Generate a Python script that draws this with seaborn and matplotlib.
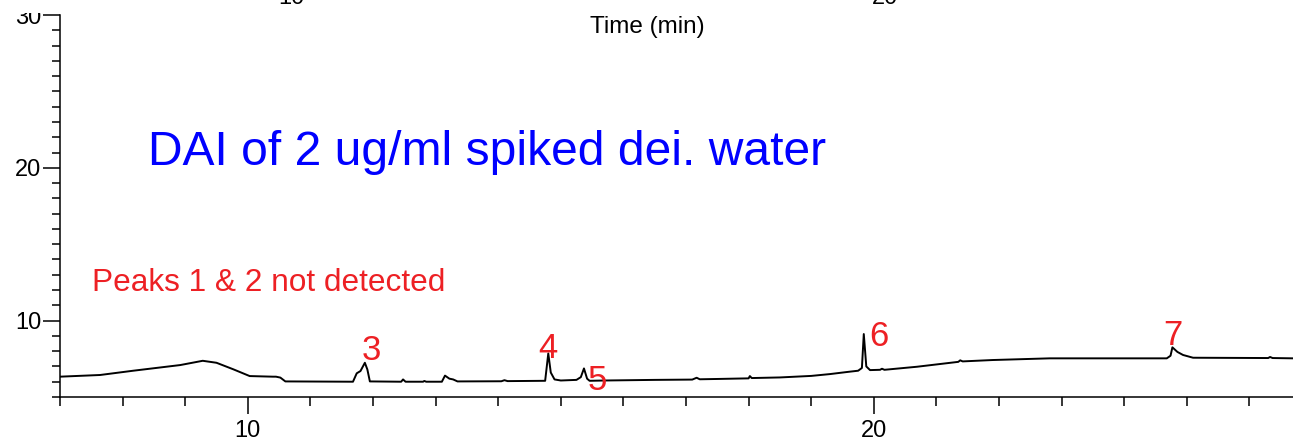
import numpy as np
import pandas as pd
import matplotlib
matplotlib.use("Agg")
import matplotlib.pyplot as plt
import seaborn as sns
from matplotlib.ticker import MultipleLocator
from matplotlib.patches import Rectangle

# ---- data ----
time_min = [7.00, 7.64, 8.17, 8.92, 9.28, 9.50, 9.77, 10.03, 10.40, 10.45, 10.52, 10.60,
            11.68, 11.74, 11.80, 11.87, 11.91, 11.95, 12.45, 12.48, 12.52, 12.80, 12.82, 12.85,
            13.10, 13.15, 13.22, 13.28, 13.35, 14.05, 14.10, 14.15, 14.75, 14.80, 14.84, 14.90,
            15.00, 15.25, 15.32, 15.37, 15.42, 15.46, 15.70, 16.50, 17.10, 17.17, 17.22, 17.50,
            18.00, 18.02, 18.05, 18.50, 19.00, 19.30, 19.60, 19.75, 19.81, 19.84, 19.88, 19.94,
            20.10, 20.13, 20.17, 20.69, 21.35, 21.38, 21.42, 21.90, 22.81, 23.88, 24.68, 24.74,
            24.77, 24.85, 24.94, 25.10, 26.30, 26.33, 26.37, 26.70]
signal = [6.33, 6.44, 6.72, 7.09, 7.37, 7.24, 6.81, 6.37, 6.33, 6.33, 6.27, 6.02,
          6.00, 6.55, 6.70, 7.24, 6.80, 6.02, 6.00, 6.15, 6.00, 6.00, 6.05, 6.00,
          6.00, 6.40, 6.20, 6.15, 6.02, 6.03, 6.10, 6.04, 6.06, 7.85, 6.60, 6.15,
          6.08, 6.12, 6.30, 6.87, 6.20, 6.06, 6.08, 6.12, 6.14, 6.26, 6.16, 6.18,
          6.22, 6.37, 6.24, 6.28, 6.38, 6.50, 6.65, 6.72, 6.90, 9.12, 7.00, 6.76,
          6.78, 6.85, 6.78, 6.98, 7.30, 7.40, 7.33, 7.42, 7.53, 7.53, 7.53, 7.70,
          8.25, 7.95, 7.75, 7.57, 7.55, 7.62, 7.55, 7.53]

peak_labels = ["3", "4", "5", "6", "7"]
peak_label_x = [11.98, 14.80, 15.58, 20.08, 24.78]
peak_label_y = [8.07, 8.20, 6.11, 8.99, 9.05]

title_text = "DAI of 2 ug/ml spiked dei. water"
note_text = "Peaks 1 & 2 not detected"
top_axis_label = "Time (min)"
top_tick_labels = ["10", "20"]
top_tick_x = [10.70, 20.18]

x_major = [10, 20]
y_major = [10, 20, 30]

df = pd.DataFrame({"time": time_min, "signal": signal})

sns.set_style("ticks")
plt.rcParams['font.family'] = ['Liberation Sans', 'DejaVu Sans']

RED = "#ED2024"
BLUE = "#0000FF"

fig = plt.figure(figsize=(12.93, 4.4), dpi=100)
ax = fig.add_axes([60 / 1293, 43 / 440, 1233 / 1293, 382 / 440])

sns.lineplot(data=df, x="time", y="signal", ax=ax, color="black", linewidth=1.4,
             estimator=None, sort=False)

ax.set_xlim(7, 7 + 1233 / 62.6)
ax.set_ylim(5, 30)
ax.set_xlabel("")
ax.set_ylabel("")
sns.despine(ax=ax, top=True, right=True)
for s in ["left", "bottom"]:
    ax.spines[s].set_linewidth(1.1)
    ax.spines[s].set_color("black")

ax.set_xticks(x_major)
ax.set_yticks(y_major)
ax.xaxis.set_minor_locator(MultipleLocator(1))
ax.yaxis.set_minor_locator(MultipleLocator(1))
ax.tick_params(axis="both", which="major", direction="out", width=1.1, color="black",
               labelsize=17, labelcolor="black")
ax.tick_params(axis="both", which="minor", direction="out", width=1.1, color="black")
ax.tick_params(axis="x", which="major", length=12.2, pad=4)
ax.tick_params(axis="x", which="minor", length=6.8)
ax.tick_params(axis="y", which="major", length=12.5, pad=1)
ax.tick_params(axis="y", which="minor", length=5.8)

for lab, x, y in zip(peak_labels, peak_label_x, peak_label_y):
    ax.text(x, y, lab, color=RED, fontsize=25, ha="center", va="center")

ax.text(8.41, 21.0, title_text, color=BLUE, fontsize=34.6, ha="left", va="center")
ax.text(7.51, 12.45, note_text, color=RED, fontsize=22.8, ha="left", va="center")

ax.text(16.385, 28.79, top_axis_label, color="black", fontsize=17.5, ha="center",
        va="baseline")
for lab, x in zip(top_tick_labels, top_tick_x):
    ax.text(x, 30.69, lab, color="black", fontsize=17, ha="center", va="baseline", clip_on=False)

# the panel above overlaps the top strip of this one (hides the top of the "30" label)
fig.add_artist(Rectangle((0, (440 - 13) / 440), 55 / 1293, 13 / 440,
                         transform=fig.transFigure, facecolor="white", edgecolor="none",
                         zorder=10))

fig.savefig("out.png", dpi=100)
